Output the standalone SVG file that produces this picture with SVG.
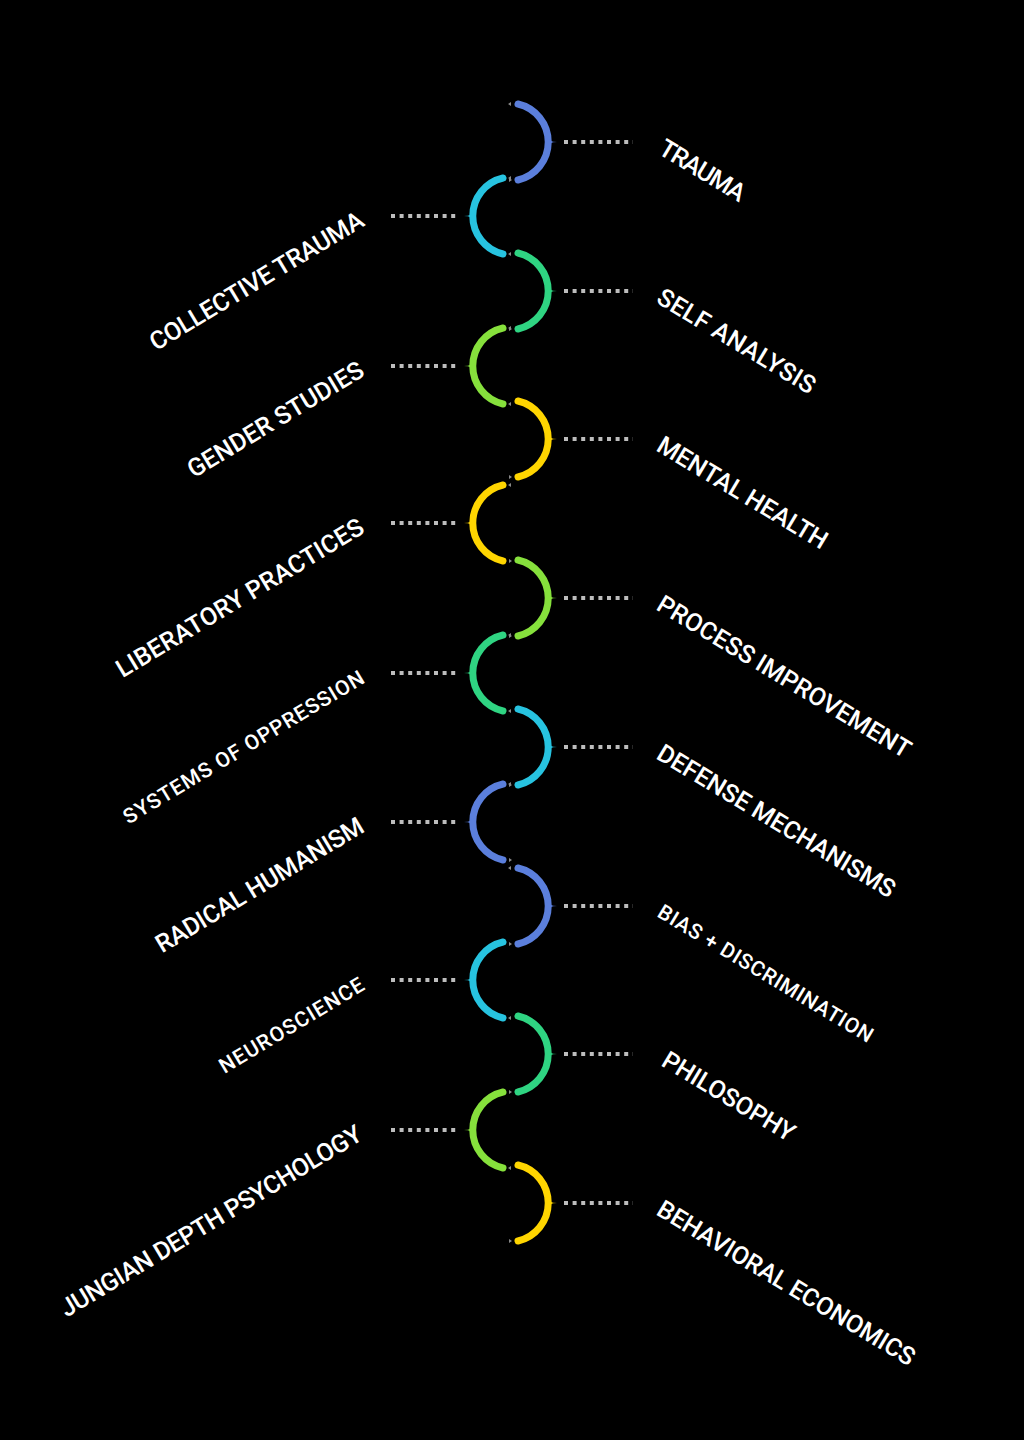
<svg xmlns="http://www.w3.org/2000/svg" width="1024" height="1440" viewBox="0 0 1024 1440">
<style>
.bg{fill:#000}
.arc{fill:none;stroke-width:7;stroke-linecap:round}
.dot{fill:none;stroke:#bdbdbd;stroke-width:4;stroke-dasharray:4 4.6}
.tick{fill:#8a8a8a}
.lbl{font-family:Roboto,"Liberation Sans",sans-serif;font-weight:500;font-size:25px;fill:#fff}
.sm{font-size:21px}
.c1{stroke:#5b7fdc}.f1{fill:#5b7fdc}
.c2{stroke:#27c3e0}.f2{fill:#27c3e0}
.c3{stroke:#2fd482}.f3{fill:#2fd482}
.c4{stroke:#86e03c}.f4{fill:#86e03c}
.c5{stroke:#ffd500}.f5{fill:#ffd500}
</style>
<defs>
<path id="ra" d="M518,-38 A39,39 0 0 1 518,38"/>
<path id="rs" d="M546,-5 Q549,0 557,0 Q549,0 546,5 Z"/>
<path id="la" d="M503,-38 A39,39 0 0 0 503,38"/>
<path id="ls" d="M475,-5 Q472,0 464,0 Q472,0 475,5 Z"/>
</defs>
<rect class="bg" x="0" y="0" width="1024" height="1440"/>
<g id="connectors">
<path class="dot" d="M564,142H633M564,291H633M564,439H633M564,598H633M564,747H633M564,906H633M564,1054H633M564,1203H633"/>
<path class="dot" d="M391,216H459M391,366H459M391,523H459M391,673H459M391,822H459M391,980H459M391,1130H459"/>
</g>
<g id="node-trauma" transform="translate(0,142)"><use href="#ra" class="arc c1"/><use href="#rs" class="f1"/><path class="tick" d="M511,-40l-3,2 3,2z M509,36l3,2-3,2z"/><text class="lbl" transform="translate(657,11) rotate(31)" textLength="96">TRAUMA</text></g>
<g id="node-collective-trauma" transform="translate(0,216)"><use href="#la" class="arc c2"/><use href="#ls" class="f2"/><path class="tick" d="M511,-40l-3,2 3,2z M511,36l-3,2 3,2z"/><text class="lbl" text-anchor="end" transform="translate(366,9) rotate(-31)" textLength="245">COLLECTIVE TRAUMA</text></g>
<g id="node-self-analysis" transform="translate(0,291)"><use href="#ra" class="arc c3"/><use href="#rs" class="f3"/><path class="tick" d="M509,36l3,2-3,2z"/><text class="lbl" transform="translate(655,11) rotate(31)" textLength="180">SELF ANALYSIS</text></g>
<g id="node-gender-studies" transform="translate(0,366)"><use href="#la" class="arc c4"/><use href="#ls" class="f4"/><path class="tick" d="M511,-40l-3,2 3,2z M511,36l-3,2 3,2z"/><text class="lbl" text-anchor="end" transform="translate(366,9) rotate(-31)" textLength="201">GENDER STUDIES</text></g>
<g id="node-mental-health" transform="translate(0,439)"><use href="#ra" class="arc c5"/><use href="#rs" class="f5"/><path class="tick" d="M509,36l3,2-3,2z"/><text class="lbl" transform="translate(655,11) rotate(31)" textLength="194">MENTAL HEALTH</text></g>
<g id="node-liberatory-practices" transform="translate(0,523)"><use href="#la" class="arc c5"/><use href="#ls" class="f5"/><path class="tick" d="M511,-40l-3,2 3,2z M509,36l3,2-3,2z"/><text class="lbl" text-anchor="end" transform="translate(366,9) rotate(-31)" textLength="284">LIBERATORY PRACTICES</text></g>
<g id="node-process-improvement" transform="translate(0,598)"><use href="#ra" class="arc c4"/><use href="#rs" class="f4"/><path class="tick" d="M509,36l3,2-3,2z"/><text class="lbl" transform="translate(655,11) rotate(31)" textLength="291">PROCESS IMPROVEMENT</text></g>
<g id="node-systems-of-oppression" transform="translate(0,673)"><use href="#la" class="arc c3"/><use href="#ls" class="f3"/><path class="tick" d="M511,-40l-3,2 3,2z M511,36l-3,2 3,2z"/><text class="lbl sm" text-anchor="end" transform="translate(366,9) rotate(-31)" textLength="277">SYSTEMS OF OPPRESSION</text></g>
<g id="node-defense-mechanisms" transform="translate(0,747)"><use href="#ra" class="arc c2"/><use href="#rs" class="f2"/><path class="tick" d="M509,36l3,2-3,2z"/><text class="lbl" transform="translate(655,11) rotate(31)" textLength="273">DEFENSE MECHANISMS</text></g>
<g id="node-radical-humanism" transform="translate(0,822)"><use href="#la" class="arc c1"/><use href="#ls" class="f1"/><path class="tick" d="M511,-40l-3,2 3,2z M509,36l3,2-3,2z M511,44l-3,2 3,2z"/><text class="lbl" text-anchor="end" transform="translate(366,9) rotate(-31)" textLength="238">RADICAL HUMANISM</text></g>
<g id="node-bias-discrimination" transform="translate(0,906)"><use href="#ra" class="arc c1"/><use href="#rs" class="f1"/><path class="tick" d="M509,36l3,2-3,2z"/><text class="lbl sm" transform="translate(656,10) rotate(31)" textLength="247">BIAS + DISCRIMINATION</text></g>
<g id="node-neuroscience" transform="translate(0,980)"><use href="#la" class="arc c2"/><use href="#ls" class="f2"/><path class="tick" d="M511,36l-3,2 3,2z"/><text class="lbl sm" text-anchor="end" transform="translate(366,9) rotate(-31)" textLength="165">NEUROSCIENCE</text></g>
<g id="node-philosophy" transform="translate(0,1054)"><use href="#ra" class="arc c3"/><use href="#rs" class="f3"/><path class="tick" d="M509,36l3,2-3,2z"/><text class="lbl" transform="translate(660,11) rotate(31)" textLength="150">PHILOSOPHY</text></g>
<g id="node-jungian-depth-psychology" transform="translate(0,1130)"><use href="#la" class="arc c4"/><use href="#ls" class="f4"/><path class="tick" d="M511,36l-3,2 3,2z"/><text class="lbl" text-anchor="end" transform="translate(364,9) rotate(-31)" textLength="347">JUNGIAN DEPTH PSYCHOLOGY</text></g>
<g id="node-behavioral-economics" transform="translate(0,1203)"><use href="#ra" class="arc c5"/><use href="#rs" class="f5"/><path class="tick" d="M509,36l3,2-3,2z"/><text class="lbl" transform="translate(655,11) rotate(31)" textLength="296">BEHAVIORAL ECONOMICS</text></g>
</svg>
